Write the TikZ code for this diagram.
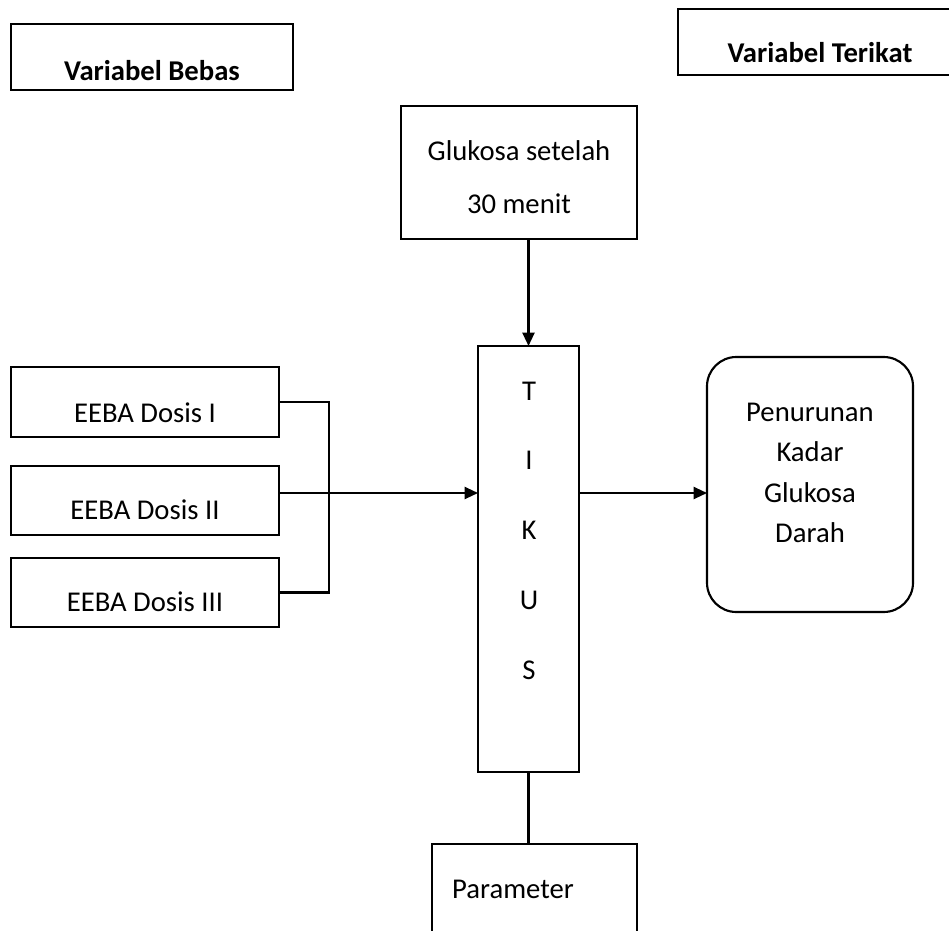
\documentclass[tikz,border=0pt]{standalone}
\usepackage{fontspec}
\setmainfont{Carlito}
\usetikzlibrary{calc,arrows.meta}
\newcommand\pxu{0.75pt}
\tikzset{
	box/.style={draw, line width=1.6pt, inner sep=0pt, outer sep=0pt},
	wire/.style={line width=1.6pt},
	arr/.style={line width=1.6pt, -{Triangle[length=10pt,width=9pt]}},
	lbl/.style={anchor=base, inner sep=0pt, font=\fontsize{21.5}{26}\selectfont},
}

\begin{document}
\begin{tikzpicture}[x=\pxu, y=-\pxu]
	\useasboundingbox (0,0) rectangle (949,931);
	\clip (0,0) rectangle (949,931);
	\node[box, minimum width=282*\pxu, minimum height=66*\pxu] (bebas) at (152,57) {};
	\node[lbl, font=\fontsize{21.5}{26}\selectfont\bfseries] (tbebas) at ($(bebas.center)+(0,23)$) {Variabel Bebas};
	\node[box, minimum width=284*\pxu, minimum height=66*\pxu] (terikat) at (820,42) {};
	\node[lbl, font=\fontsize{21.5}{26}\selectfont\bfseries] (tterikat) at ($(terikat.center)+(0,21)$) {Variabel Terikat};
	\node[box, minimum width=236*\pxu, minimum height=133*\pxu] (glukosa) at (519,172.5) {};
	\node[lbl] (tglukosa1) at ($(glukosa.center)+(0,-12.5)$) {Glukosa setelah};
	\node[lbl] (tglukosa2) at ($(glukosa.center)+(0,40.5)$) {30 menit};
	\node[box, minimum width=101*\pxu, minimum height=426*\pxu] (tikus) at (528.5,559) {};
	\foreach \huruf [count=\i] in {T,I,K,U,S}
		\node[lbl] (huruf\i) at ($(tikus.north)+(0.5,{54+69.8*(\i-1)})$) {\huruf};
	\node[box, minimum width=268*\pxu, minimum height=70*\pxu] (dosisI) at (145,402) {};
	\node[box, minimum width=268*\pxu, minimum height=69*\pxu] (dosisII) at (145,500.5) {};
	\node[box, minimum width=268*\pxu, minimum height=69*\pxu] (dosisIII) at (145,592.5) {};
	\node[lbl] (tdosisI) at ($(dosisI.center)+(0,20)$) {EEBA Dosis I};
	\node[lbl] (tdosisII) at ($(dosisII.center)+(0,18.5)$) {EEBA Dosis II};
	\node[lbl] (tdosisIII) at ($(dosisIII.center)+(0,18.5)$) {EEBA Dosis III};
	\node[box, rounded corners=22pt, minimum width=206*\pxu, minimum height=255*\pxu] (penurunan) at (810,484.5) {};
	\foreach \kata [count=\i] in {Penurunan,Kadar,Glukosa,Darah}
		\node[lbl] (kata\i) at ($(penurunan.north)+(0,{64+40.5*(\i-1)})$) {\kata};
	\node[box, minimum width=205*\pxu, minimum height=136*\pxu] (parameter) at (534.5,912) {};
	\node[lbl] (tparameter) at ($(parameter.north)+(-21.5,54)$) {Parameter};
	\draw[arr] (tikus.north |- glukosa.south) to (tikus.north);
	\draw[wire] (dosisI.east) to ++(50,0) |- (dosisIII.east);
	\coordinate (masuk) at ($(dosisII.east)+(0,-7.5)$);
	\draw[arr] (masuk) to (masuk -| tikus.west);
	\coordinate (keluar) at (tikus.east |- masuk);
	\draw[arr] (keluar) to (keluar -| penurunan.west);
	\draw[wire] (tikus.south) to (tikus.south |- parameter.north);
\end{tikzpicture}
\end{document}
